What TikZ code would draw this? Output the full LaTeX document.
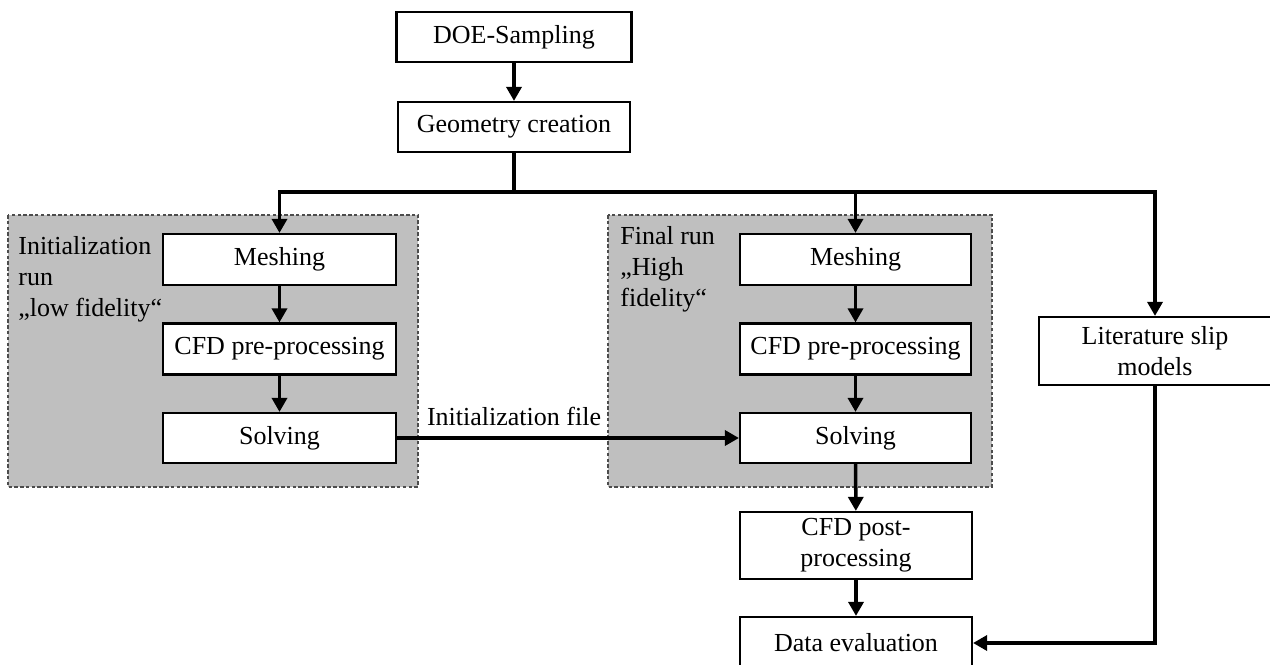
\documentclass[tikz,border=0pt]{standalone}
\usepackage{fontspec}
\setmainfont{Liberation Serif}
\usetikzlibrary{arrows.meta}

\begin{document}
\begin{tikzpicture}[x=0.02cm,y=-0.02cm,
        font=\fontsize{14.8}{17.6}\selectfont,
        proc/.style={draw,line width=1.2pt,fill=white,minimum width=4.64cm,minimum height=1.02cm,align=center,inner sep=1pt},
        flow/.style={line width=2pt,-{Triangle[length=8pt,width=8.5pt]}},
        group/.style={draw=black!70,fill=black!25,line width=0.6pt,dash pattern=on 2pt off 1.3pt}]
            \useasboundingbox (0,0) rectangle (1270,665);
            \draw[group] (8,215) rectangle (418,487);
            \draw[group] (608,215) rectangle (992,487);
            \node[anchor=north west,inner sep=0,align=left] (lowlbl) at (18,236) {Initialization\\run\\„low fidelity“};
            \node[anchor=north west,inner sep=0,align=left] (highlbl) at (620,226) {Final run\\„High\\fidelity“};
            \node[proc,minimum width=4.7cm,minimum height=1.0cm] (doe) at (514,37) {DOE-Sampling};
            \node[proc,minimum height=1.0cm] (geo) at (514,127) {Geometry creation};
            \node[proc,minimum width=4.66cm] (mesh1) at (279.5,259.5) {Meshing};
            \node[proc,minimum width=4.66cm] (pre1) at (279.5,349) {CFD pre-processing};
            \node[proc,minimum width=4.66cm,minimum height=1.0cm] (solve1) at (279.5,438) {Solving};
            \node[proc,minimum width=4.62cm] (mesh2) at (855.5,259.5) {Meshing};
            \node[proc,minimum width=4.62cm] (pre2) at (855.5,349) {CFD pre-processing};
            \node[proc,minimum width=4.62cm,minimum height=1.0cm] (solve2) at (855.5,438) {Solving};
            \node[proc,minimum height=1.34cm] (post) at (856,545.5) {CFD post-\\processing};
            \node[proc,minimum height=1.04cm] (data) at (856,643) {Data evaluation};
            \node[proc,minimum height=1.36cm] (lit) at (1155,351) {Literature slip\\models};
            \coordinate (bus) at (514,192);
            \draw[flow] (doe) -- (geo);
            \draw[line width=2pt] (geo) -- (bus);
            \draw[flow] (bus) -| (mesh1);
            \draw[flow] (bus) -| (mesh2);
            \draw[flow] (bus) -| (lit);
            \draw[flow] (mesh1) -- (pre1);
            \draw[flow] (pre1) -- (solve1);
            \draw[flow] (mesh2) -- (pre2);
            \draw[flow] (pre2) -- (solve2);
            \draw[flow] (solve1) -- (solve2);
            \node[anchor=base,inner sep=0] (initlbl) at (514,425) {Initialization file};
            \draw[flow] (solve2) -- (post);
            \draw[flow] (post) -- (data);
            \draw[flow] (lit) |- (data);
        \end{tikzpicture}
\end{document}
